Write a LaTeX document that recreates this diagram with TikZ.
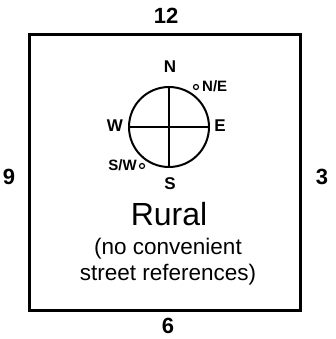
\documentclass[tikz,border=0pt]{standalone}
\usepackage{fontspec}
\setmainfont{Liberation Sans}
\begin{document}
\begin{tikzpicture}[x=1pt,y=-1pt,
  side/.style={font=\bfseries\fontsize{22}{26}\selectfont, inner sep=0pt},
  dir/.style={font=\bfseries\fontsize{17}{19}\selectfont, inner sep=0pt},
  sub/.style={font=\bfseries\fontsize{15}{17}\selectfont, inner sep=0pt},
  dot/.style={circle, draw, line width=1.2pt, minimum size=5pt, inner sep=0pt},
]
\useasboundingbox (0,0) rectangle (336,339);
\draw[line width=3pt] (29,35) rectangle (300,310);
\node[side] (top) at (166,16) {12};
\node[side] (bottom) at (168,326) {6};
\node[side] (left) at (9,177) {9};
\node[side] (right) at (322,177) {3};
\node[circle, draw, line width=2pt, minimum size=80pt, inner sep=0pt] (c) at (169,127) {};
\draw[line width=1.6pt] (c.north) -- (c.south);
\draw[line width=1.6pt] (c.west) -- (c.east);
\node[dir] (n) at (170,67) {N};
\node[dir] (e) at (220,126) {E};
\node[dir] (w) at (115,126) {W};
\node[dir] (s) at (170,184) {S};
\node[dot] (ne) at (196,87) {};
\node[sub, anchor=west] (net) at (202,86) {N/E};
\node[dot] (sw) at (142,166) {};
\node[sub, anchor=east] (swt) at (137,165) {S/W};
\node[font=\fontsize{32}{34}\selectfont, inner sep=0pt] (rural) at (169,214) {Rural};
\node[font=\fontsize{22.5}{26}\selectfont, inner sep=0pt, align=center] (note) at (168,262) {(no convenient\\street references)};
\end{tikzpicture}
\end{document}
